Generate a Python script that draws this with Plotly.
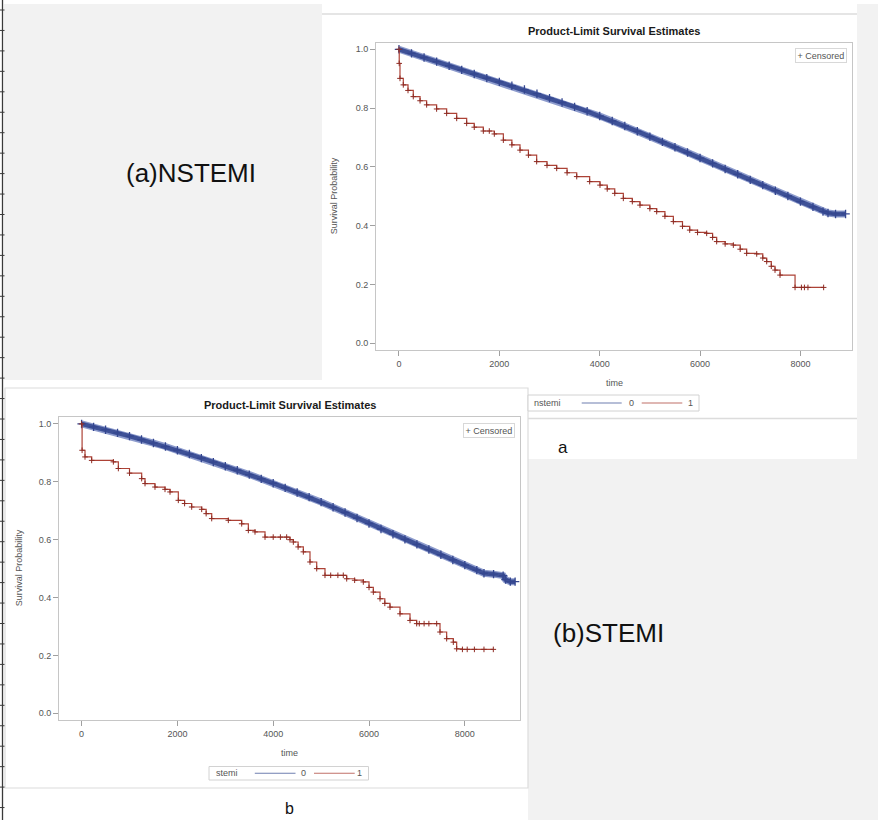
import plotly.graph_objects as go

W, H = 878, 820

# ---------------- data ----------------
# (a) NSTEMI panel
a0_time = [0, 250, 500, 750, 1000, 1250, 1500, 1750, 2000, 2250, 2500, 2750, 3000, 3250,
           3500, 3750, 4000, 4250, 4500, 4750, 5000, 5250, 5500, 5750, 6000, 6250, 6500,
           6750, 7000, 7250, 7500, 7750, 8000, 8250, 8450, 8550, 8700, 8900]
a0_surv = [1.000, 0.986, 0.972, 0.958, 0.944, 0.930, 0.916, 0.902, 0.889, 0.876, 0.863, 0.849,
           0.834, 0.819, 0.804, 0.789, 0.773, 0.756, 0.739, 0.721, 0.703, 0.685, 0.667, 0.649,
           0.630, 0.612, 0.593, 0.575, 0.556, 0.538, 0.519, 0.501, 0.482, 0.464, 0.448, 0.443,
           0.440, 0.440]
a1_time = [0, 5, 20, 86, 180, 285, 420, 551, 750, 950, 1150, 1349, 1500, 1681, 1800, 1900,
           2080, 2250, 2412, 2580, 2744, 2950, 3143, 3350, 3542, 3800, 4006, 4150, 4300, 4471,
           4650, 4803, 5000, 5136, 5300, 5468, 5650, 5794, 5950, 6132, 6250, 6331, 6500, 6663,
           6800, 6929, 7129, 7250, 7328, 7420, 7494, 7594, 7893, 8020, 8080, 8150, 8463]
a1_surv = [1.0, 0.952, 0.901, 0.879, 0.860, 0.839, 0.825, 0.811, 0.797, 0.782, 0.765, 0.748,
           0.735, 0.722, 0.722, 0.712, 0.691, 0.675, 0.657, 0.640, 0.618, 0.605, 0.595, 0.580,
           0.567, 0.550, 0.538, 0.525, 0.510, 0.493, 0.482, 0.470, 0.458, 0.448, 0.432, 0.414,
           0.398, 0.385, 0.377, 0.374, 0.360, 0.346, 0.338, 0.334, 0.320, 0.306, 0.304, 0.290,
           0.278, 0.262, 0.249, 0.232, 0.190, 0.190, 0.190, 0.190, 0.190]

# (b) STEMI panel
b0_time = [0, 250, 500, 750, 1000, 1250, 1500, 1750, 2000, 2250, 2500, 2750, 3000, 3250,
           3500, 3750, 4000, 4250, 4500, 4750, 5000, 5250, 5500, 5750, 6000, 6250, 6500,
           6750, 7000, 7250, 7500, 7750, 8000, 8250, 8400, 8600, 8800, 8850, 8950, 9050]
b0_surv = [1.000, 0.990, 0.980, 0.969, 0.958, 0.946, 0.934, 0.922, 0.909, 0.896, 0.882, 0.868,
           0.854, 0.840, 0.825, 0.810, 0.795, 0.779, 0.763, 0.747, 0.730, 0.712, 0.694, 0.675,
           0.656, 0.637, 0.619, 0.601, 0.584, 0.566, 0.548, 0.530, 0.512, 0.495, 0.484, 0.481,
           0.476, 0.462, 0.455, 0.455]
b1_time = [0, 10, 71, 210, 663, 767, 1000, 1254, 1324, 1532, 1741, 1846, 2019, 2150, 2298,
           2507, 2600, 2716, 3063, 3342, 3481, 3620, 3829, 4000, 4150, 4281, 4350, 4420, 4520,
           4629, 4768, 4908, 5081, 5200, 5350, 5463, 5534, 5700, 5881, 6000, 6090, 6230, 6330,
           6438, 6647, 6856, 6995, 7050, 7150, 7250, 7413, 7482, 7621, 7760, 7830, 7950, 8050,
           8200, 8400, 8595]
b1_surv = [1.0, 0.909, 0.886, 0.874, 0.869, 0.846, 0.830, 0.811, 0.794, 0.782, 0.774, 0.765,
           0.736, 0.725, 0.713, 0.705, 0.690, 0.673, 0.667, 0.655, 0.632, 0.627, 0.609, 0.609,
           0.609, 0.609, 0.600, 0.592, 0.575, 0.558, 0.523, 0.500, 0.477, 0.477, 0.477, 0.477,
           0.465, 0.460, 0.454, 0.435, 0.419, 0.396, 0.380, 0.367, 0.344, 0.321, 0.310, 0.310,
           0.310, 0.310, 0.310, 0.281, 0.258, 0.246, 0.223, 0.221, 0.221, 0.221, 0.221, 0.221]

x_ticks = [0, 2000, 4000, 6000, 8000]
x_tick_text = ["0", "2000", "4000", "6000", "8000"]
y_ticks = [0.0, 0.2, 0.4, 0.6, 0.8, 1.0]
y_tick_text = ["0.0", "0.2", "0.4", "0.6", "0.8", "1.0"]

title_text = "Product-Limit Survival Estimates"
ylabel_text = "Survival Probability"
xlabel_text = "time"
group_names = ["nstemi", "stemi"]
level_names = ["0", "1"]

# ---------------- styling ----------------
BLUE = "#3e5197"
BLUE_HALO = "#8e9ccd"
BLUE_M = "#34468f"
RED = "#ad4236"
RED_M = "#8e2c24"
GRAY_BG = "#f2f2f2"
FRAME = "#c6c6c6"
BORDER = "#dcdcdc"
TXT = "#555555"
FONT = "Arial, Liberation Sans, sans-serif"


def X(px):
    return px / W


def Y(py):
    return 1 - py / H


fig = go.Figure()


def add_curves(t0, s0, t1, s1, xa, ya):
    # group 0: many censored marks make a thick fuzzy band
    fig.add_trace(go.Scatter(x=t0, y=s0, mode="lines", line=dict(color=BLUE_HALO, width=7),
                             xaxis=xa, yaxis=ya, showlegend=False, hoverinfo="skip"))
    fig.add_trace(go.Scatter(x=t0, y=s0, mode="lines+markers", line=dict(color=BLUE, width=4.5),
                             marker=dict(symbol="cross-thin", size=6, line=dict(width=1.3, color=BLUE_M)),
                             xaxis=xa, yaxis=ya, showlegend=False, hoverinfo="skip"))
    # group 1: step curve with censored marks
    fig.add_trace(go.Scatter(x=t1, y=s1, mode="lines+markers", line=dict(color=RED, width=1.2, shape="hv"),
                             marker=dict(symbol="cross-thin", size=4, line=dict(width=1, color=RED_M)),
                             xaxis=xa, yaxis=ya, showlegend=False, hoverinfo="skip"))


add_curves(a0_time, a0_surv, a1_time, a1_surv, "x", "y")
add_curves(b0_time, b0_surv, b1_time, b1_surv, "x2", "y2")


def xaxis(domain, rng, anchor):
    return dict(domain=domain, range=rng, tickvals=x_ticks, ticktext=x_tick_text, anchor=anchor,
                showline=True, mirror=True, linecolor=FRAME, linewidth=1,
                ticks="outside", ticklen=5, tickcolor="#a0a0a0",
                tickfont=dict(size=9, color=TXT, family=FONT),
                showgrid=False, zeroline=False, fixedrange=True)


def yaxis(domain, rng, anchor):
    return dict(domain=domain, range=rng, tickvals=y_ticks, ticktext=y_tick_text, anchor=anchor,
                showline=True, mirror=True, linecolor=FRAME, linewidth=1,
                ticks="outside", ticklen=5, tickcolor="#a0a0a0",
                tickfont=dict(size=9, color=TXT, family=FONT),
                showgrid=False, zeroline=False, fixedrange=True)


# plot frames (pixel positions in the picture)
A = dict(l=376, r=852, t=42.7, b=350)
B = dict(l=59, r=520, t=416.7, b=720)

shapes = []
# background blocks
shapes.append(dict(type="rect", xref="paper", yref="paper", x0=X(4), x1=X(322), y0=Y(380), y1=Y(4),
                   fillcolor=GRAY_BG, line=dict(width=0), layer="below"))
shapes.append(dict(type="rect", xref="paper", yref="paper", x0=X(857), x1=X(878), y0=Y(459), y1=Y(4),
                   fillcolor=GRAY_BG, line=dict(width=0), layer="below"))
shapes.append(dict(type="rect", xref="paper", yref="paper", x0=X(528), x1=X(878), y0=Y(820), y1=Y(459),
                   fillcolor=GRAY_BG, line=dict(width=0), layer="below"))
# panel borders
shapes.append(dict(type="line", xref="paper", yref="paper", x0=X(322), x1=X(857), y0=Y(14), y1=Y(14),
                   line=dict(color=BORDER, width=1.5), layer="below"))
shapes.append(dict(type="line", xref="paper", yref="paper", x0=X(528), x1=X(857), y0=Y(418.5), y1=Y(418.5),
                   line=dict(color=BORDER, width=1.5), layer="below"))
shapes.append(dict(type="rect", xref="paper", yref="paper", x0=X(5), x1=X(528), y0=Y(788), y1=Y(388),
                   fillcolor="rgba(0,0,0,0)", line=dict(color=BORDER, width=1.2), layer="below"))
# left ruler
shapes.append(dict(type="line", xref="paper", yref="paper", x0=X(2.5), x1=X(2.5), y0=0, y1=1,
                   line=dict(color="#3a3a3a", width=1.3)))
k = 0
while 10 + 20.45 * k < H:
    yy = 10 + 20.45 * k
    shapes.append(dict(type="line", xref="paper", yref="paper", x0=X(0), x1=X(4.5), y0=Y(yy), y1=Y(yy),
                       line=dict(color="#3a3a3a", width=1)))
    k += 1

annotations = []


def ann(text, x, y, size, color="#222", bold=False, angle=0, xanchor="center", yanchor="middle"):
    if bold:
        text = "<b>" + text + "</b>"
    annotations.append(dict(text=text, xref="paper", yref="paper", x=X(x), y=Y(y), xanchor=xanchor,
                            yanchor=yanchor, showarrow=False, textangle=angle,
                            font=dict(size=size, color=color, family=FONT)))


def legend_box(name, x0, x1, y0, y1, tx, l1, t0, l2, t1):
    shapes.append(dict(type="rect", xref="paper", yref="paper", x0=X(x0), x1=X(x1), y0=Y(y1), y1=Y(y0),
                       fillcolor="white", line=dict(color="#d2d2d2", width=1)))
    ym = (y0 + y1) / 2
    ann(name, tx, ym, 9, TXT, xanchor="left")
    shapes.append(dict(type="line", xref="paper", yref="paper", x0=X(l1[0]), x1=X(l1[1]), y0=Y(ym), y1=Y(ym),
                       line=dict(color="#6f7fb0", width=1.2)))
    ann(level_names[0], t0, ym, 9, TXT)
    shapes.append(dict(type="line", xref="paper", yref="paper", x0=X(l2[0]), x1=X(l2[1]), y0=Y(ym), y1=Y(ym),
                       line=dict(color="#c07068", width=1.2)))
    ann(level_names[1], t1, ym, 9, TXT)


def panel_text(P, title_y, ylab_x, time_y, cens_right, cens_top):
    cx = (P["l"] + P["r"]) / 2
    ann(title_text, cx, title_y, 11, "#1a1a1a", bold=True)
    ann(ylabel_text, ylab_x, (P["t"] + P["b"]) / 2, 9, TXT, angle=-90)
    ann(xlabel_text, cx, time_y, 9, TXT)
    annotations.append(dict(text="+ Censored", xref="paper", yref="paper", x=X(cens_right), y=Y(cens_top),
                            xanchor="right", yanchor="top", showarrow=False, bgcolor="white",
                            bordercolor="#d8d8d8", borderwidth=1, borderpad=1.5,
                            font=dict(size=9, color=TXT, family=FONT)))


panel_text(A, 31, 334, 383, 847, 48)
panel_text(B, 405, 19, 753, 515, 423)
legend_box(group_names[0], 528, 699, 395, 411, 532, (581.7, 621.7), 631, (641.7, 682.3), 690)
legend_box(group_names[1], 209, 368.5, 766.5, 780, 213.5, (254.8, 295.5), 303, (314, 354.7), 359.8)

ann("(a)NSTEMI", 191, 173, 26, "#111")
ann("(b)STEMI", 608.5, 633, 26, "#111")
ann("a", 563, 447, 17, "#111")
ann("b", 289, 819, 16, "#111", yanchor="bottom")

fig.update_layout(
    width=W, height=H,
    margin=dict(l=0, r=0, t=0, b=0),
    paper_bgcolor="white", plot_bgcolor="white",
    xaxis=xaxis([X(A["l"]), X(A["r"])], [-458, 9028], "y"),
    yaxis=yaxis([Y(A["b"]), Y(A["t"])], [-0.0228, 1.0224], "x"),
    xaxis2=xaxis([X(B["l"]), X(B["r"])], [-472, 9152], "y2"),
    yaxis2=yaxis([Y(B["b"]), Y(B["t"])], [-0.023, 1.025], "x2"),
    shapes=shapes, annotations=annotations, showlegend=False,
)

fig.write_html("out.html")
